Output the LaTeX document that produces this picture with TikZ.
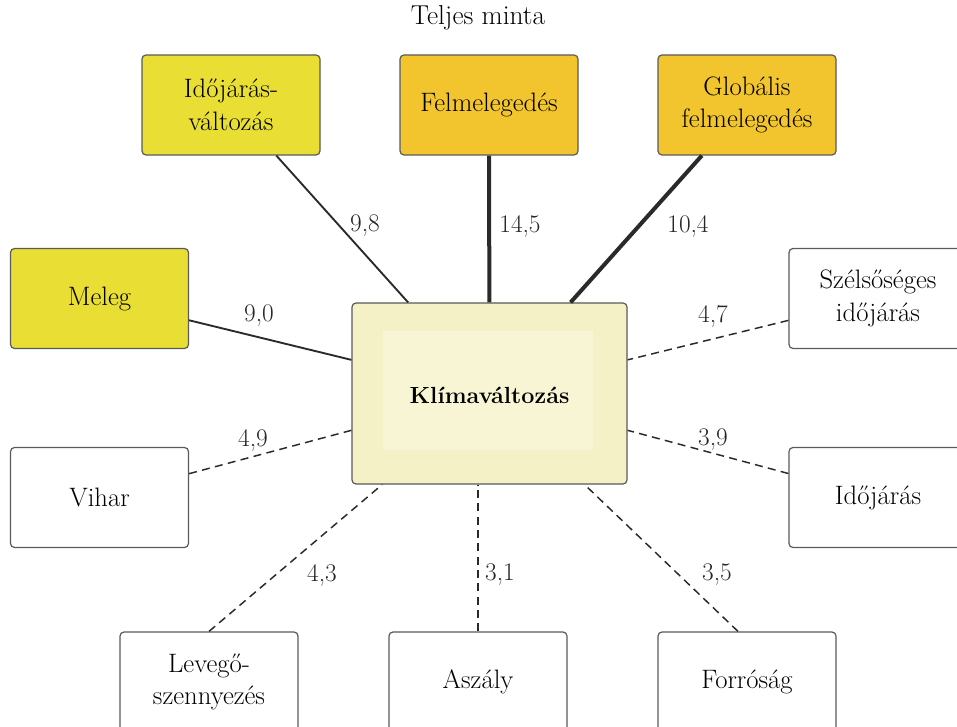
\documentclass[tikz,border=0pt]{standalone}
\usepackage{fontspec}
\setmainfont{Latin Modern Roman}
\definecolor{ylw}{HTML}{E8DE34}
\definecolor{org}{HTML}{F2C52E}
\definecolor{cen}{HTML}{F5F1C6}
\definecolor{ceninner}{HTML}{F8F5D5}
\definecolor{bord}{HTML}{5A5A5A}
\definecolor{ln}{HTML}{2A2A2A}
\begin{document}
\begin{tikzpicture}[x=0.75pt,y=-0.75pt,
  box/.style={draw=bord, line width=0.9pt, rounded corners=3pt, rectangle,
    minimum width=133.5pt, minimum height=75pt, align=center, inner sep=2pt,
    font=\fontsize{20}{24.5}\selectfont},
  ybox/.style={box, fill=ylw},
  obox/.style={box, fill=org},
  wbox/.style={box, fill=white},
  strong/.style={draw=ln, line width=3pt},
  mid/.style={draw=ln, line width=1.4pt},
  weak/.style={draw=ln, line width=1.1pt, dash pattern=on 6pt off 4pt},
  lab/.style={font=\fontsize{19}{22}\selectfont, text=black!85}
]
\useasboundingbox (0,0) rectangle (957,727);
\clip (0,0) rectangle (957,727);
\fill[white] (0,0) rectangle (957,727);

\node[font=\fontsize{20.5}{24}\selectfont] (title) at (478,18) {Teljes minta};

% central node
\node[box, fill=cen, minimum width=206.25pt, minimum height=135.75pt] (c) at (489.5,393.5) {};
\fill[ceninner] (383,331) rectangle (593,450);
\node[font=\bfseries\fontsize{17.5}{22}\selectfont] (ct) at (489.5,395) {Klímaváltozás};

% outer nodes
\node[ybox] (iv) at (231,105) {Időjárás-\\változás};
\node[obox] (fm) at (489,105) {Felmelegedés};
\node[obox] (gf) at (747,105) {Globális\\felmelegedés};
\node[ybox] (me) at (99.5,298.5) {Meleg};
\node[wbox] (sz) at (878,298.5) {Szélsőséges\\időjárás};
\node[wbox] (vi) at (99.5,497.5) {Vihar};
\node[wbox] (ij) at (878,497.5) {Időjárás};
\node[wbox] (lv) at (209,682) {Levegő-\\szennyezés};
\node[wbox] (as) at (478,682) {Aszály};
\node[wbox] (fr) at (747,682) {Forróság};

% connectors
\draw[mid] (iv) -- (c);
\draw[strong] (fm) -- (c);
\draw[strong] (gf) -- (c);
\draw[mid] (me) -- (c);
\draw[weak] (sz) -- (c);
\draw[weak] (vi) -- (c);
\draw[weak] (ij) -- (c);
\draw[weak] (lv.north) -- (c);
\draw[weak] (as.north) -- (as.north |- c.south);
\draw[weak] ([xshift=-6.75pt]fr.north) -- (c);

% labels
\node[lab] (l1) at (365,226) {9,8};
\node[lab] (l2) at (520,226) {14,5};
\node[lab] (l3) at (688,226) {10,4};
\node[lab] (l4) at (259,316) {9,0};
\node[lab] (l5) at (713,316) {4,7};
\node[lab] (l6) at (253,440) {4,9};
\node[lab] (l7) at (713,440) {3,9};
\node[lab] (l8) at (322,575) {4,3};
\node[lab] (l9) at (500,575) {3,1};
\node[lab] (l10) at (717,575) {3,5};
\end{tikzpicture}
\end{document}
